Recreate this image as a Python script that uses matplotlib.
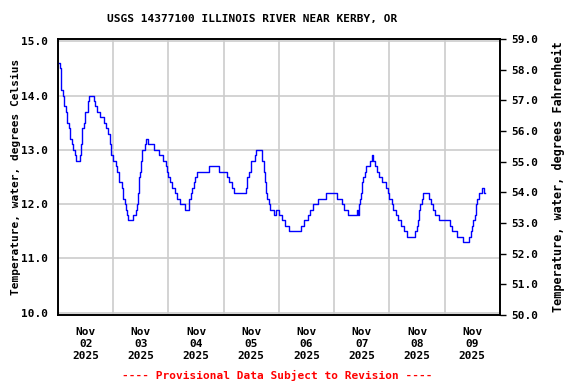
import matplotlib
matplotlib.use("Agg")
import matplotlib.pyplot as plt
import numpy as np

# hours since Nov 02 2025 00:00 where the reading steps to a new value
hours = [0.0, 0.7, 1.1, 1.5, 2.0, 2.6, 3.3, 3.9, 4.6, 5.2, 5.9, 6.5, 7.2, 7.9,
         9.4, 9.8, 10.5, 11.1, 11.8, 12.9, 13.5, 15.5, 16.1, 17.0, 18.1, 20.1,
         20.9, 21.8, 22.5, 22.9, 24.0, 25.1, 25.6, 26.3, 26.7, 27.9, 28.4, 28.9,
         29.5, 30.0, 30.4, 32.5, 33.8, 34.3, 34.7, 35.1, 35.3, 35.8, 36.2, 36.5,
         37.7, 38.1, 39.3, 41.8, 44.0, 45.6, 46.7, 47.3, 48.0, 48.7, 49.5, 50.8,
         51.9, 53.0, 55.0, 57.0, 57.6, 58.3, 58.9, 59.6, 60.3, 65.7, 70.0, 73.5,
         74.4, 75.5, 76.6, 81.7, 82.3, 82.9, 83.8, 85.5, 86.1, 88.8, 89.5, 90.1,
         90.5, 91.0, 91.6, 92.1, 93.8, 94.6, 95.8, 97.5, 98.8, 100.4, 105.6,
         106.9, 108.4, 109.5, 110.8, 112.8, 116.5, 121.0, 123.5, 124.4, 126.1,
         130.0, 130.2, 130.6, 131.3, 131.8, 132.2, 132.7, 133.2, 133.9, 135.7,
         136.3, 137.0, 137.7, 138.5, 139.4, 140.7, 142.4, 143.3, 144.0, 144.9,
         145.7, 147.0, 147.7, 149.2, 150.5, 151.4, 155.3, 155.9, 156.3, 156.8,
         157.4, 158.0, 158.7, 161.0, 161.9, 162.8, 163.6, 165.4, 170.4, 171.1,
         173.2, 175.9, 178.6, 179.2, 179.8, 180.3, 181.1, 181.5, 182.1, 183.1,
         184.3, 184.9, 185.3]
temp_c = [14.6, 14.5, 14.2, 14.1, 14.0, 13.8, 13.7, 13.5, 13.4, 13.2, 13.1, 13.0, 12.9, 12.8,
          12.9, 13.1, 13.4, 13.5, 13.7, 13.9, 14.0, 13.9, 13.8, 13.7, 13.6, 13.5,
          13.4, 13.3, 13.1, 12.9, 12.8, 12.7, 12.6, 12.5, 12.4, 12.3, 12.1, 12.0,
          11.9, 11.8, 11.7, 11.8, 11.9, 12.0, 12.2, 12.4, 12.5, 12.6, 12.8, 13.0,
          13.1, 13.2, 13.1, 13.0, 12.9, 12.8, 12.7, 12.6, 12.5, 12.4, 12.3, 12.2,
          12.1, 12.0, 11.9, 12.1, 12.2, 12.3, 12.4, 12.5, 12.6, 12.7, 12.6, 12.5,
          12.4, 12.3, 12.2, 12.3, 12.5, 12.6, 12.8, 12.9, 13.0, 12.8, 12.6, 12.4,
          12.2, 12.1, 12.0, 11.9, 11.8, 11.9, 11.8, 11.7, 11.6, 11.5, 11.6,
          11.7, 11.8, 11.9, 12.0, 12.1, 12.2, 12.1, 12.0, 11.9, 11.8,
          11.9, 11.8, 12.0, 12.1, 12.2, 12.4, 12.5, 12.6, 12.7, 12.8,
          12.9, 12.8, 12.7, 12.6, 12.5, 12.4, 12.3, 12.2, 12.1, 12.0,
          11.9, 11.8, 11.7, 11.6, 11.5, 11.4, 11.5, 11.6, 11.7, 11.9,
          12.0, 12.1, 12.2, 12.1, 12.0, 11.9, 11.8, 11.7, 11.6, 11.5,
          11.4, 11.3, 11.4, 11.5, 11.6, 11.7, 11.8, 12.0, 12.1, 12.2,
          12.3, 12.2, 12.2]

day_labels = ["Nov\n02\n2025", "Nov\n03\n2025", "Nov\n04\n2025", "Nov\n05\n2025",
              "Nov\n06\n2025", "Nov\n07\n2025", "Nov\n08\n2025", "Nov\n09\n2025"]
c_ticks = [10.0, 11.0, 12.0, 13.0, 14.0, 15.0]
f_ticks = [50.0, 51.0, 52.0, 53.0, 54.0, 55.0, 56.0, 57.0, 58.0, 59.0]

plt.rcParams['font.family'] = ['DejaVu Sans Mono']
plt.rcParams['font.weight'] = 'bold'
plt.rcParams['font.size'] = 8

fig = plt.figure(figsize=(5.76, 3.84), dpi=100)
ax = fig.add_axes([0.1007, 0.1797, 0.7673, 0.7187])

ax.plot(hours, temp_c, color='#0000ff', lw=1.0, drawstyle='steps-post', zorder=3)

ax.set_xlim(0, 192)
ax.set_ylim(9.96, 15.04)
ax.set_xticks(np.arange(0, 193, 24))
ax.set_xticklabels([])
ax.set_xticks(np.arange(12, 192, 24), minor=True)
ax.set_xticklabels(day_labels, minor=True, fontweight='bold')
ax.tick_params(axis='x', which='both', length=0, pad=9)
ax.set_yticks(c_ticks)
ax.set_yticklabels(["%.1f" % v for v in c_ticks], fontweight='bold')
ax.tick_params(axis='y', length=0, pad=7)
ax.grid(True, which='major', color='#cccccc', lw=1.2)
for s in ax.spines.values():
    s.set_linewidth(1.2)
ax.set_ylabel("Temperature, water, degrees Celsius", fontsize=8, fontweight='bold')
ax.yaxis.set_label_coords(-0.084, 0.5)

ax2 = ax.twinx()
ax2.set_ylim(50, 59)
ax2.set_yticks(f_ticks)
ax2.set_yticklabels(["%.1f" % v for v in f_ticks], fontweight='bold')
ax2.tick_params(axis='y', length=4, width=1, pad=4, direction='out')
ax2.set_ylabel("Temperature, water, degrees Fahrenheit", fontsize=8.5, fontweight='bold')
ax2.yaxis.set_label_coords(1.117, 0.5)
for s in ax2.spines.values():
    s.set_linewidth(1.2)

fig.text(0.4375, 0.95, "USGS 14377100 ILLINOIS RIVER NEAR KERBY, OR",
         ha='center', va='center', fontsize=8, fontweight='bold')
fig.text(0.481, 0.023, "---- Provisional Data Subject to Revision ----",
         ha='center', va='center', fontsize=8, fontweight='bold', color='red')

fig.savefig("out.png", dpi=100)
